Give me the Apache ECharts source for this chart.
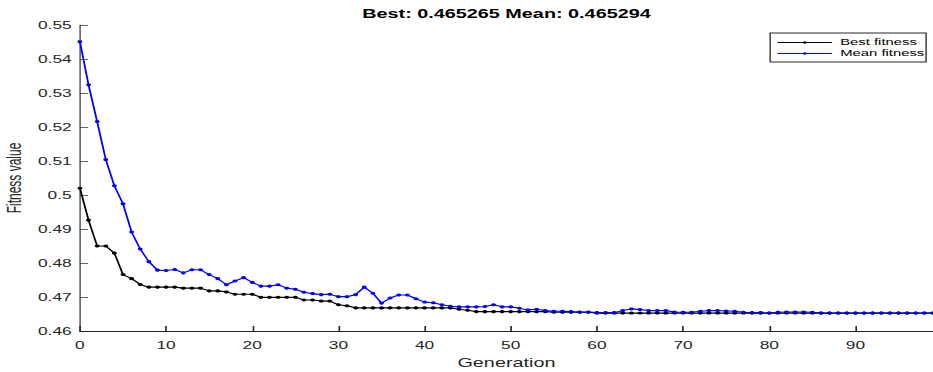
<!DOCTYPE html>
<html>
<head>
<meta charset="utf-8">
<script src="https://cdn.jsdelivr.net/npm/echarts@6/dist/echarts.min.js"></script>
<style>
  html, body { margin: 0; padding: 0; background: #fff; overflow: hidden; }
  /* the figure is a narrow MATLAB plot stretched sideways, so draw it narrow and stretch it the same way */
  #chart { width: 565px; height: 372px; transform: scaleX(1.6513); transform-origin: 0 0; }
</style>
</head>
<body>
<div id="chart"></div>
<script>
const bestFitness = [
  0.5020, 0.4926, 0.4850, 0.4850, 0.4829, 0.4766, 0.4754, 0.4737, 0.4729, 0.4729,
  0.4729, 0.4729, 0.4726, 0.4726, 0.4726, 0.4718, 0.4718, 0.4715, 0.4708, 0.4708,
  0.4708, 0.4699, 0.4699, 0.4699, 0.4699, 0.4699, 0.4691, 0.4691, 0.4688, 0.4688,
  0.4677, 0.4674, 0.4668, 0.4668, 0.4668, 0.4668, 0.4668, 0.4668, 0.4668, 0.4668,
  0.4668, 0.4668, 0.4668, 0.4668, 0.4664, 0.4661, 0.4657, 0.4657, 0.4657, 0.4657,
  0.4657, 0.4657, 0.4657, 0.4657, 0.4657, 0.4655, 0.4655, 0.4655, 0.4655, 0.4655,
  0.46527, 0.46527, 0.46527, 0.46527, 0.46527, 0.46527, 0.46527, 0.46527, 0.46527, 0.46527,
  0.46527, 0.46527, 0.46527, 0.46527, 0.46527, 0.46527, 0.46527, 0.46527, 0.46527, 0.46527,
  0.46527, 0.46527, 0.46527, 0.46527, 0.46527, 0.46527, 0.46527, 0.46527, 0.46527, 0.46527,
  0.46527, 0.46527, 0.46527, 0.46527, 0.46527, 0.46527, 0.46527, 0.46527, 0.46527, 0.465265
];

const meanFitness = [
  0.5451, 0.5324, 0.5216, 0.5104, 0.5027, 0.4974, 0.4891, 0.4841, 0.4804, 0.4779,
  0.4778, 0.4781, 0.4771, 0.4780, 0.4780, 0.4766, 0.4754, 0.4736, 0.4747, 0.4757,
  0.4743, 0.4732, 0.4732, 0.4736, 0.4726, 0.4723, 0.4714, 0.4710, 0.4707, 0.4708,
  0.4701, 0.4701, 0.4707, 0.4729, 0.4711, 0.4682, 0.4697, 0.4706, 0.4706, 0.4695,
  0.4685, 0.4683, 0.4677, 0.4673, 0.4671, 0.4671, 0.4671, 0.4672, 0.4677, 0.4671,
  0.4671, 0.4667, 0.4662, 0.4664, 0.4660, 0.4658, 0.4658, 0.4657, 0.4656, 0.4656,
  0.4654, 0.4654, 0.4654, 0.4660, 0.4665, 0.4663, 0.4660, 0.4660, 0.4660, 0.4656,
  0.4655, 0.4655, 0.4658, 0.4660, 0.4660, 0.4659, 0.4658, 0.4655, 0.4654, 0.4654,
  0.4653, 0.4655, 0.4656, 0.4656, 0.4656, 0.4655, 0.4653, 0.4653, 0.4653, 0.4653,
  0.4653, 0.4653, 0.4653, 0.4653, 0.4653, 0.4653, 0.4653, 0.4653, 0.4653, 0.465294
];

const xTicks = [0, 10, 20, 30, 40, 50, 60, 70, 80, 90];
const seriesNames = ["Best fitness", "Mean fitness"];
const seriesColors = ["#000000", "#0000ff"];

const font = "Liberation Sans, Arial, sans-serif";
const ink = "#262626";

const last = (arr) => arr[arr.length - 1];
const titleText = "Best: " + last(bestFitness) + " Mean: " + last(meanFitness);

const makeSeries = (name, values, color) => ({
  name,
  type: "line",
  data: values.map((v, i) => [i, v]),
  symbol: "circle",
  symbolSize: 3,
  showAllSymbol: true,
  color,
  itemStyle: { color },
  lineStyle: { color, width: 1.1 },
});

const chart = echarts.init(document.getElementById("chart"), null, { renderer: "svg" });

chart.setOption({
  animation: false,
  backgroundColor: "#fff",
  title: {
    text: titleText,
    left: 306.7,
    top: 8,
    padding: 0,
    textAlign: "center",
    textStyle: { fontFamily: font, fontSize: 12, fontWeight: "bold", color: "#000" },
  },
  legend: {
    orient: "vertical",
    left: 466.4,
    top: 33,
    padding: [5, 1, 4, 4],
    itemWidth: 33,
    itemHeight: 3,
    itemGap: 2,
    backgroundColor: "#fff",
    borderColor: ink,
    borderWidth: 0.8,
    lineStyle: { width: 0.8 },
    textStyle: { fontFamily: font, fontSize: 9, color: "#000" },
    data: seriesNames,
  },
  grid: { left: 48.4, right: 0, top: 25, bottom: 41, containLabel: false, outerBoundsMode: "none" },
  xAxis: {
    type: "value",
    min: 0,
    max: 99,
    interval: 10,
    name: "Generation",
    nameLocation: "middle",
    nameGap: 26,
    nameTextStyle: { fontFamily: font, fontSize: 12, color: ink },
    axisLine: { lineStyle: { color: ink, width: 1 } },
    axisTick: { inside: true, length: 5, customValues: xTicks, lineStyle: { color: ink } },
    axisLabel: { customValues: xTicks, margin: 9, fontFamily: font, fontSize: 10.5, color: ink },
    splitLine: { show: false },
  },
  yAxis: {
    type: "value",
    min: 0.46,
    max: 0.55,
    interval: 0.01,
    name: "Fitness value",
    nameLocation: "middle",
    nameGap: 34,
    nameMoveOverlap: false,
    nameTextStyle: { fontFamily: font, fontSize: 12, color: ink },
    axisLine: { show: true, lineStyle: { color: ink, width: 0.7 } },
    axisTick: { show: true, inside: true, length: 5, lineStyle: { color: ink, width: 0.7 } },
    axisLabel: {
      margin: 5,
      fontFamily: font,
      fontSize: 10.5,
      color: ink,
      formatter: (v) => String(+v.toFixed(2)),
    },
    splitLine: { show: false },
  },
  series: [
    makeSeries(seriesNames[0], bestFitness, seriesColors[0]),
    makeSeries(seriesNames[1], meanFitness, seriesColors[1]),
  ],
});
</script>
</body>
</html>
